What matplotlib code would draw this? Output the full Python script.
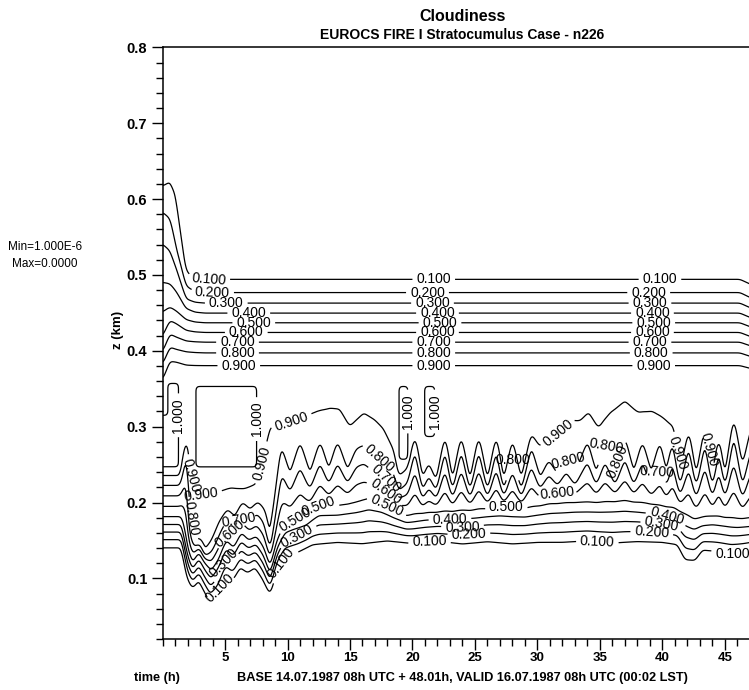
import numpy as np
import matplotlib
matplotlib.use("Agg")
import matplotlib.pyplot as plt
from matplotlib.ticker import MultipleLocator, FixedLocator, FormatStrFormatter

plt.rcParams["font.family"] = ["Liberation Sans", "DejaVu Sans"]

# contour levels of cloud fraction
levels = [0.1, 0.2, 0.3, 0.4, 0.5, 0.6, 0.7, 0.8, 0.9, 1.0]

# height (km) of the upper-edge contours 0.1 .. 0.9 (one row per level)
top_t = [0.0, 0.6, 1.1, 1.9, 2.6, 3.4, 46.2, 47.0, 48.0]
top_z = [
    [0.618, 0.624, 0.605, 0.505, 0.4941, 0.4941, 0.4941, 0.488, 0.482],
    [0.583, 0.574, 0.532, 0.485, 0.478, 0.4765, 0.4765, 0.470, 0.465],
    [0.541, 0.532, 0.510, 0.468, 0.464, 0.4629, 0.4629, 0.457, 0.452],
    [0.490, 0.488, 0.478, 0.456, 0.451, 0.4497, 0.4497, 0.444, 0.439],
    [0.451, 0.457, 0.452, 0.441, 0.438, 0.437, 0.437, 0.432, 0.427],
    [0.418, 0.440, 0.436, 0.427, 0.425, 0.4242, 0.4242, 0.419, 0.415],
    [0.398, 0.422, 0.418, 0.413, 0.412, 0.4115, 0.4115, 0.407, 0.403],
    [0.383, 0.405, 0.402, 0.399, 0.398, 0.3975, 0.3975, 0.393, 0.389],
    [0.361, 0.386, 0.385, 0.381, 0.3805, 0.3804, 0.3804, 0.377, 0.373],
]

# height (km) of the lower-edge contours 0.1, 0.5, 0.8 and 0.9
b01_t = [0, 1.5, 2.0, 2.4, 2.9, 3.3, 3.8, 4.4, 5.0, 5.6, 6.2, 6.8, 7.4, 8.0, 8.6, 9.2, 9.8, 10.8, 12.0, 14.0,
         16.0, 18.0, 20.0, 22.0, 24.0, 26.0, 28.0, 30.0, 32.0, 34.0, 36.0, 38.0, 40.0, 41.2, 41.8, 42.6, 43.2,
         44.5, 45.5, 46.5, 48.0]
b01_z = [0.141, 0.141, 0.100, 0.088, 0.098, 0.085, 0.069, 0.080, 0.105, 0.098, 0.115, 0.108, 0.115, 0.100,
         0.080, 0.115, 0.130, 0.135, 0.145, 0.148, 0.146, 0.150, 0.147, 0.150, 0.146, 0.149, 0.146, 0.148,
         0.148, 0.150, 0.147, 0.149, 0.148, 0.145, 0.125, 0.124, 0.138, 0.136, 0.133, 0.135, 0.140]

b05_t = [0, 1.5, 2.0, 2.4, 2.9, 3.4, 3.9, 4.5, 5.1, 5.7, 6.3, 6.9, 7.5, 8.1, 8.6, 9.2, 9.8, 10.5, 11.5, 12.5,
         14.0, 15.5, 16.5, 17.5, 18.5, 19.5, 21.0, 23.0, 25.0, 27.0, 29.0, 31.0, 33.0, 35.0, 37.0, 39.0, 41.0,
         42.5, 44.0, 46.0, 48.0]
b05_z = [0.181, 0.181, 0.140, 0.120, 0.135, 0.120, 0.110, 0.125, 0.150, 0.140, 0.160, 0.150, 0.155, 0.140,
         0.115, 0.150, 0.170, 0.175, 0.180, 0.195, 0.195, 0.200, 0.205, 0.200, 0.190, 0.182, 0.186, 0.188,
         0.190, 0.194, 0.192, 0.198, 0.200, 0.200, 0.202, 0.198, 0.192, 0.178, 0.182, 0.178, 0.180]

b08_t = [0, 1.4, 1.9, 2.2, 2.6, 3.0, 3.4, 4.0, 4.6, 5.2, 5.8, 6.4, 7.0, 7.6, 8.1, 8.6, 9.0, 9.5, 10.2, 11.0,
         11.8, 12.6, 13.3, 14.0, 14.8, 15.5, 16.1, 16.8, 17.6, 18.4, 18.9, 19.6, 20.2, 20.8, 21.3, 21.9, 22.6,
         23.2, 23.9, 24.6, 25.3, 26.0, 26.7, 27.3, 28.0, 28.7, 29.5, 30.2, 30.9, 31.6, 32.3, 33.0, 34.0, 34.7,
         35.4, 36.2, 37.0, 37.7, 38.4, 39.1, 39.8, 40.3, 40.8, 41.4, 42.1, 42.7, 43.4, 44.0, 44.5, 45.0, 45.7,
         46.4, 47.1, 48.0]
b08_z = [0.2227, 0.2227, 0.265, 0.170, 0.150, 0.150, 0.135, 0.150, 0.175, 0.190, 0.180, 0.200, 0.190, 0.200,
         0.190, 0.150, 0.200, 0.275, 0.235, 0.280, 0.235, 0.280, 0.240, 0.280, 0.240, 0.270, 0.275, 0.260,
         0.255, 0.240, 0.215, 0.225, 0.270, 0.215, 0.235, 0.215, 0.270, 0.215, 0.270, 0.215, 0.270, 0.215,
         0.270, 0.215, 0.265, 0.215, 0.275, 0.230, 0.255, 0.235, 0.260, 0.235, 0.280, 0.235, 0.280, 0.235,
         0.285, 0.235, 0.280, 0.235, 0.280, 0.235, 0.280, 0.220, 0.275, 0.220, 0.280, 0.220, 0.270, 0.220,
         0.290, 0.220, 0.270, 0.260]

b09_t = [0, 1.4, 1.9, 2.3, 2.8, 3.4, 4.5, 5.5, 6.5, 7.5, 8.0, 8.5, 9.5, 10.3, 11.3, 12.3, 13.4, 14.2, 15.0,
         16.1, 17.0, 17.7, 18.5, 18.9, 19.6, 20.2, 20.8, 21.3, 21.9, 22.6, 23.2, 23.9, 24.6, 25.3, 26.0, 26.7,
         27.3, 28.0, 28.7, 29.5, 30.2, 31.0, 31.8, 32.6, 33.4, 34.1, 34.9, 35.8, 37.0, 38.1, 39.2, 40.3, 40.9,
         41.4, 42.1, 42.7, 43.4, 44.0, 44.5, 45.0, 45.7, 46.4, 47.1, 48.0]
b09_z = [0.235, 0.235, 0.285, 0.235, 0.215, 0.210, 0.215, 0.220, 0.218, 0.225, 0.260, 0.300, 0.305, 0.308,
         0.315, 0.321, 0.326, 0.324, 0.302, 0.319, 0.310, 0.298, 0.270, 0.235, 0.245, 0.288, 0.232, 0.252,
         0.228, 0.288, 0.228, 0.288, 0.228, 0.288, 0.228, 0.288, 0.228, 0.283, 0.230, 0.290, 0.275, 0.285,
         0.295, 0.310, 0.309, 0.320, 0.300, 0.320, 0.335, 0.320, 0.322, 0.310, 0.300, 0.240, 0.295, 0.235,
         0.300, 0.235, 0.285, 0.235, 0.312, 0.250, 0.300, 0.310]

# fully overcast (1.000) patches: t0, t1, z0, z1
full_t0 = [-1.0, 0.45, 2.7, 18.95, 21.0, 47.0]
full_t1 = [1.25, 1.25, 7.5, 19.6, 21.75, 49.0]
full_z0 = [0.247, 0.315, 0.247, 0.258, 0.288, 0.315]
full_z1 = [0.315, 0.357, 0.352, 0.352, 0.352, 0.352]

# label anchor times along the upper-edge contours, and free anchors (t, z) for the rest
top_label_t = [
    [3.7, 4.0, 5.1, 6.9, 7.3, 6.7, 6.0, 6.0, 6.1],
    [21.7, 21.2, 21.6, 22.0, 22.2, 22.0, 21.7, 21.7, 21.7],
    [39.8, 38.9, 39.0, 39.2, 39.3, 39.2, 39.0, 39.1, 39.3],
]
other_labels = [(1.3, 0.315), (7.55, 0.31), (19.55, 0.32), (21.7, 0.32), (10.3, 0.308), (31.7, 0.291),
                (2.3, 0.235), (2.8, 0.205), (3.1, 0.18), (4.7, 0.087), (5.0, 0.12), (5.5, 0.161),
                (5.9, 0.179), (8.5, 0.25), (12.3, 0.199), (10.7, 0.174), (10.8, 0.155), (9.5, 0.12),
                (17.3, 0.255), (17.6, 0.226), (17.7, 0.21), (18.0, 0.197), (23.0, 0.177), (24.0, 0.17),
                (24.5, 0.16), (21.4, 0.141), (27.5, 0.196), (28.0, 0.26), (31.6, 0.212), (32.8, 0.258),
                (35.9, 0.28), (36.4, 0.255), (39.5, 0.24), (40.4, 0.187), (40.0, 0.18), (39.2, 0.174),
                (34.8, 0.15), (45.6, 0.133), (41.3, 0.265), (44.0, 0.27)]

label_pos = []
for row in top_label_t:
    for k, tl in enumerate(row):
        label_pos.append((tl, top_z[k][5]))
label_pos += other_labels

# build the cloud-fraction field column by column from the edge heights
t = np.arange(0.0, 48.05, 0.05)
z = np.arange(0.0, 0.8021, 0.002)
field = np.zeros((len(z), len(t)))
for j, tj in enumerate(t):
    top = [np.interp(tj, top_t, row) for row in top_z]
    b1 = np.interp(tj, b01_t, b01_z)
    b5 = np.interp(tj, b05_t, b05_z)
    b8 = np.interp(tj, b08_t, b08_z)
    b9 = max(np.interp(tj, b09_t, b09_z), b8 + 0.004)
    bot = [b1, b1 + (b5 - b1) * 0.25, b1 + (b5 - b1) * 0.5, b1 + (b5 - b1) * 0.75, b5,
           b5 + (b8 - b5) / 3, b5 + 2 * (b8 - b5) / 3, b8, b9]
    zs = [0.0, b1 - 0.02] + bot + [b9 + 0.01, top[8] - 0.008] + top[::-1] + [top[0] + 0.02, 1.0]
    vs = [0.0, 0.0] + levels[:9] + [0.95, 0.95] + levels[8::-1] + [0.0, 0.0]
    field[:, j] = np.interp(z, zs, vs)

T, Z = np.meshgrid(t, z)
for t0, t1, z0, z1 in zip(full_t0, full_t1, full_z0, full_z1):
    field[(T >= t0) & (T <= t1) & (Z >= z0) & (Z <= z1)] = 1.05


def smooth(a, axis, passes):
    for _ in range(passes):
        if axis == 0:
            p = np.pad(a, ((1, 1), (0, 0)), mode="edge")
            a = 0.25 * p[:-2] + 0.5 * p[1:-1] + 0.25 * p[2:]
        else:
            p = np.pad(a, ((0, 0), (1, 1)), mode="edge")
            a = 0.25 * p[:, :-2] + 0.5 * p[:, 1:-1] + 0.25 * p[:, 2:]
    return a


field = smooth(smooth(field, 1, 14), 0, 4)

fig = plt.figure(figsize=(7.49, 6.90), dpi=100)
ax = fig.add_axes([0.2170, 0.0739, 0.8011, 0.8573])

cs = ax.contour(t, z, field, levels=levels, colors="black", linewidths=0.9)
ax.clabel(cs, fmt="%.3f", fontsize=10, inline=True, inline_spacing=4, manual=label_pos)

ax.set_xlim(0, 48.01)
ax.set_ylim(0.02, 0.8)
ax.xaxis.set_major_locator(FixedLocator(list(range(5, 50, 5))))
ax.xaxis.set_minor_locator(MultipleLocator(1))
ax.yaxis.set_major_locator(FixedLocator([0.1, 0.2, 0.3, 0.4, 0.5, 0.6, 0.7, 0.8]))
ax.yaxis.set_minor_locator(MultipleLocator(0.02))
ax.yaxis.set_major_formatter(FormatStrFormatter("%.1f"))
ax.tick_params(which="major", direction="out", length=8, width=1)
ax.tick_params(which="minor", direction="out", length=5, width=1)
ax.tick_params(axis="x", which="major", labelsize=9.5, pad=1)
ax.tick_params(axis="y", which="major", labelsize=10.5, pad=3)
for lab in ax.get_xticklabels() + ax.get_yticklabels():
    lab.set_fontweight("bold")
for sp in ax.spines.values():
    sp.set_linewidth(1.1)

fig.text(0.6175, 0.9754, "Cloudiness", ha="center", va="center", fontsize=11.5, fontweight="bold")
fig.text(0.6175, 0.9493, "EUROCS FIRE I Stratocumulus Case - n226", ha="center", va="center",
         fontsize=10, fontweight="bold")
fig.text(0.1575, 0.5217, "z (km)", ha="center", va="center", rotation=90, fontsize=9.5, fontweight="bold")
fig.text(0.2096, 0.0174, "time (h)", ha="center", va="center", fontsize=9.2, fontweight="bold")
fig.text(0.618, 0.0174, "BASE 14.07.1987 08h UTC + 48.01h, VALID 16.07.1987 08h UTC (00:02 LST)",
         ha="center", va="center", fontsize=9.2, fontweight="bold")
fig.text(0.06, 0.6425, "Min=1.000E-6", ha="center", va="center", fontsize=8.5)
fig.text(0.06, 0.6174, "Max=0.0000", ha="center", va="center", fontsize=8.5)

fig.savefig("out.png", dpi=100)
